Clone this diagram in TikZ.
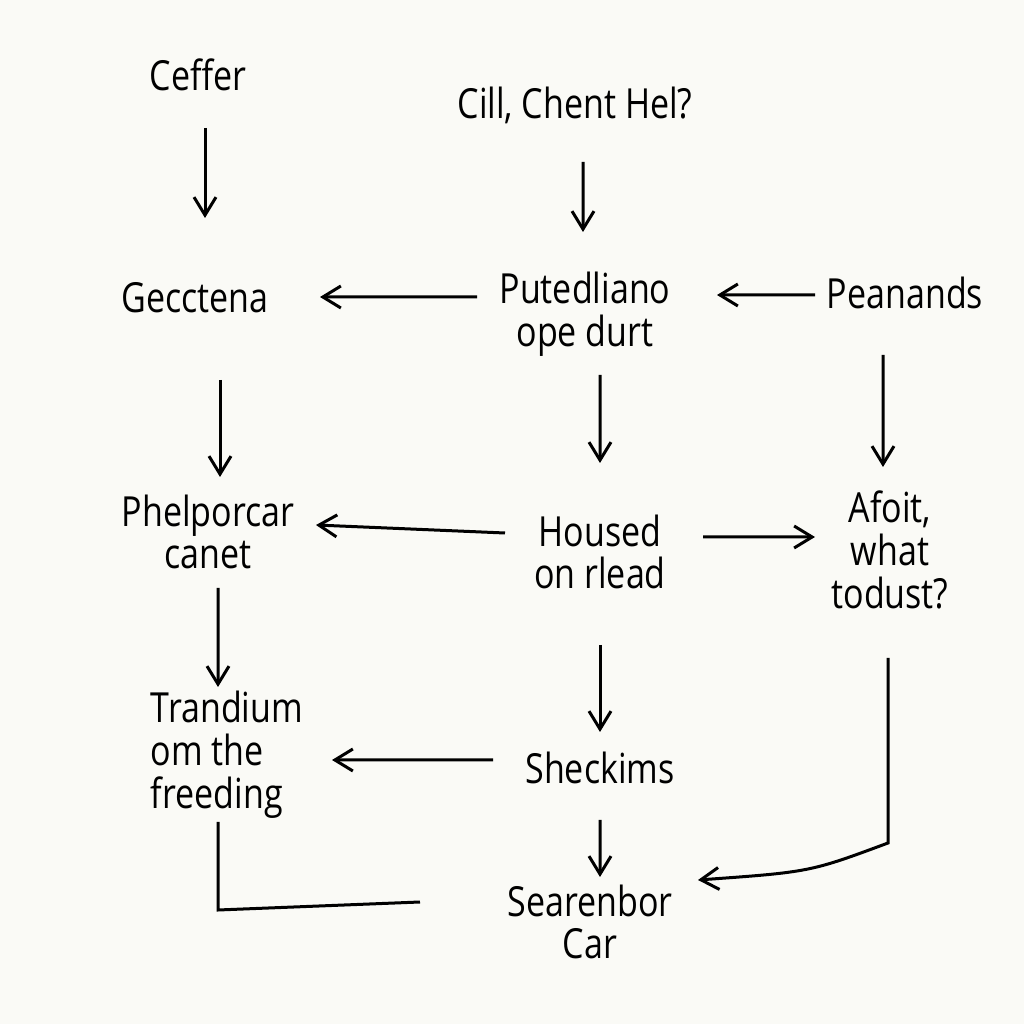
\documentclass[tikz,border=0pt]{standalone}
\usepackage{fontspec}
\setmainfont{Open Sans}
\newfontfamily\handfont[FakeStretch=0.82]{Open Sans}
\usetikzlibrary{calc,arrows.meta}
\definecolor{paper}{HTML}{FAFAF6}

\begin{document}
\begin{tikzpicture}[
		word/.style={inner sep=1pt, align=center, font=\handfont\fontsize{11.8}{12.2}\selectfont},
		arr/.style={line width=0.3mm, -{Straight Barb[length=1.8mm,width=2.2mm]}},
		ln/.style={line width=0.3mm}]
		%%%%% START %%%%%
		
		\fill[paper] (0, 0) rectangle (10.24, 10.24);
		\useasboundingbox (0, 0) rectangle (10.24, 10.24);
		
		\node[word] (ceffer) at (1.98, 9.49) {Ceffer};
		\node[word] (cill) at (5.75, 9.19) {Cill, Chent Hel?};
		
		\node[word] (gecctena) at (1.95, 7.26) {Gecctena};
		\node[word] (puted) at (5.85, 7.10) {Putedliano\\ope durt};
		\node[word] (peanands) at (9.05, 7.31) {Peanands};
		
		\node[word] (phelpor) at (2.08, 4.92) {Phelporcar\\canet};
		\node[word] (housed) at (6.00, 4.72) {Housed\\on rlead};
		\node[word] (afoit) at (8.90, 4.74) {Afoit,\\what\\todust?};
		
		\node[word, align=left] (trandium) at (2.27, 2.69) {Trandium\\om the\\freeding};
		\node[word] (sheckims) at (6.00, 2.56) {Sheckims};
		\node[word] (searenbor) at (5.90, 1.02) {Searenbor\\Car};
		
		\draw[arr] ($(ceffer)+(0.07,-0.53)$) -- ($(gecctena)+(0.10,0.80)$);
		\draw[arr] ($(cill)+(0.08,-0.57)$) -- ($(puted)+(-0.02,0.82)$);
		
		\draw[arr] ($(puted)+(-1.08,0.17)$) -- ($(gecctena)+(1.25,0.01)$);
		\draw[arr] ($(peanands)+(-0.90,-0.02)$) -- ($(puted)+(1.32,0.19)$);
		
		\draw[arr] ($(gecctena)+(0.25,-0.82)$) -- ($(phelpor)+(0.12,0.55)$);
		\draw[arr] ($(puted)+(0.15,-0.61)$) -- ($(housed)+(0,0.89)$);
		\draw[arr] ($(peanands)+(-0.22,-0.62)$) -- ($(afoit)+(-0.07,0.83)$);
		
		\draw[arr] ($(housed)+(-0.95,0.19)$) -- ($(phelpor)+(1.08,0.07)$);
		\draw[arr] ($(housed)+(1.03,0.15)$) -- ($(afoit)+(-0.75,0.13)$);
		
		\draw[arr] ($(phelpor)+(0.10,-0.56)$) -- ($(trandium)+(-0.09,0.68)$);
		\draw[arr] ($(housed)+(0,-0.93)$) -- ($(sheckims)+(0,0.36)$);
		\draw[arr] ($(sheckims)+(-1.07,0.08)$) -- ($(trandium)+(1.05,-0.05)$);
		\draw[arr] ($(sheckims)+(0,-0.52)$) -- ($(searenbor)+(0.10,0.45)$);
		
		\draw[arr] ($(afoit)+(-0.02,-1.08)$) -- ($(afoit)+(-0.02,-2.93)$)
			.. controls ($(searenbor)+(2.2,0.5)$) .. ($(searenbor)+(1.08,0.42)$);
		
		\coordinate (tend) at (4.20, 1.22);
		\draw[ln] ($(trandium)+(-0.09,-0.67)$) -- ($(trandium)+(-0.09,-1.55)$) -- (tend);
		
		%%%%% END %%%%%
\end{tikzpicture}
\end{document}
